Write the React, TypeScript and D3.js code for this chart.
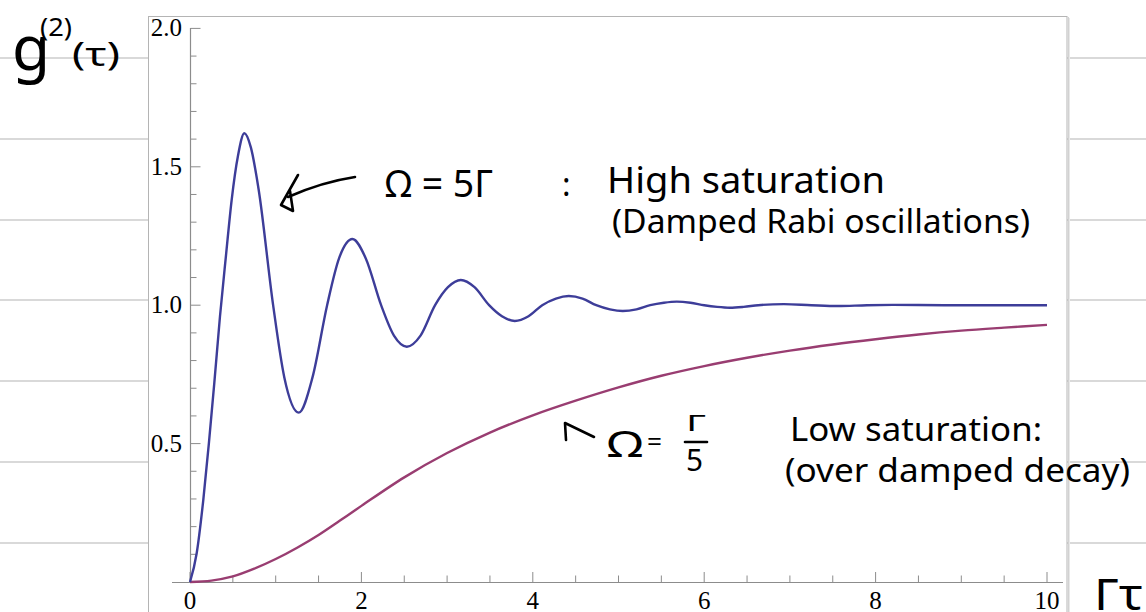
import React from "react";
import * as d3 from "d3";

// ---- data ----
const blueTau = [0, 0.078, 0.155, 0.22, 0.284, 0.35, 0.42, 0.486, 0.56, 0.634, 0.71, 0.8, 0.97, 1.1, 1.27, 1.43, 1.6, 1.74, 1.895, 2.05, 2.23, 2.38, 2.53, 2.69, 2.86, 3.01, 3.16, 3.32, 3.49, 3.64, 3.79, 3.95, 4.11, 4.27, 4.42, 4.58, 4.74, 4.9, 5.05, 5.21, 5.37, 5.53, 5.68, 5.84, 6.0, 6.15, 6.3, 6.46, 6.63, 6.93, 7.25, 7.56, 7.9, 8.2, 8.8, 9.4, 10];
const blueG = [0, 0.104, 0.296, 0.5, 0.72, 0.96, 1.18, 1.38, 1.54, 1.621, 1.57, 1.42, 1.0, 0.74, 0.612, 0.74, 1.0, 1.17, 1.239, 1.17, 1.0, 0.89, 0.85, 0.89, 1.0, 1.065, 1.091, 1.065, 1.0, 0.96, 0.943, 0.96, 1.0, 1.024, 1.033, 1.024, 1.0, 0.985, 0.979, 0.985, 1.0, 1.009, 1.013, 1.009, 1.0, 0.994, 0.991, 0.994, 1.0, 1.004, 1.0, 0.997, 1.0, 1.001, 1.0, 1.0, 1.0];
const redTau = [0, 0.25, 0.5, 0.75, 1.0, 1.25, 1.5, 1.75, 2.0, 2.5, 3.0, 3.5, 4.0, 4.5, 5.0, 5.5, 6.0, 6.5, 7.0, 7.5, 8.0, 8.5, 9.0, 9.5, 10];
const redG = [0, 0.005, 0.02, 0.048, 0.083, 0.124, 0.17, 0.222, 0.275, 0.378, 0.466, 0.54, 0.602, 0.655, 0.703, 0.745, 0.78, 0.81, 0.836, 0.858, 0.877, 0.894, 0.908, 0.919, 0.929];
const xTickLabels = ["0", "2", "4", "6", "8", "10"];
const yTickLabels = ["0.5", "1.0", "1.5", "2.0"];
const paperLinesLeft = [58, 139, 220, 300, 381, 462, 543];
const paperLinesRight = [58, 139, 220, 300, 381, 462, 543];

const BLUE = "#3d3d99";
const RED = "#993d71";
const AXIS = "#8c8c8c";
const HAND = "'Noto Sans', 'DejaVu Sans', sans-serif";
const SERIF = "'Liberation Serif', 'Times New Roman', serif";

export default function App() {
  const x = d3.scaleLinear().domain([0, 10]).range([190, 1047]);
  const y = d3.scaleLinear().domain([0, 2]).range([582, 28.4]);
  const blueLine = d3
    .line<[number, number]>()
    .x((d) => x(d[0]))
    .y((d) => y(d[1]))
    .curve(d3.curveMonotoneX);
  const redLine = d3
    .line<[number, number]>()
    .x((d) => x(d[0]))
    .y((d) => y(d[1]))
    .curve(d3.curveCatmullRom.alpha(0.5));
  const blue = blueLine(blueTau.map((t, i) => [t, blueG[i]] as [number, number])) || "";
  const red = redLine(redTau.map((t, i) => [t, redG[i]] as [number, number])) || "";

  const xMinor = d3.range(0, 10.001, 0.5);
  const yMinor = d3.range(0.1, 2.001, 0.1);

  return (
    <svg
      width={1146}
      height={612}
      style={{ position: "absolute", left: 0, top: 0, background: "#fff" }}
    >
      {/* lined paper */}
      {paperLinesLeft.map((py) => (
        <line key={"l" + py} x1={0} x2={149} y1={py} y2={py} stroke="#d9d9d9" strokeWidth={2} />
      ))}
      {paperLinesRight.map((py) => (
        <line key={"r" + py} x1={1067} x2={1146} y1={py} y2={py} stroke="#d9d9d9" strokeWidth={2} />
      ))}
      {/* plot frame */}
      <rect x={148.5} y={16.5} width={918.5} height={600} fill="#fff" stroke="#b4b4b4" strokeWidth={1} />
      <line x1={1068.5} x2={1068.5} y1={17} y2={612} stroke="#d2d2d2" strokeWidth={1} />
      <line x1={1069.5} x2={1069.5} y1={18} y2={612} stroke="#e8e8e8" strokeWidth={1} />

      {/* axes */}
      <line x1={172} x2={1063} y1={582.5} y2={582.5} stroke={AXIS} strokeWidth={1.2} />
      <line x1={190.5} x2={190.5} y1={28} y2={582.5} stroke={AXIS} strokeWidth={1.2} />
      {xMinor.map((t) => {
        const major = Math.abs(t % 2) < 1e-6;
        return (
          <line key={"xt" + t} x1={x(t)} x2={x(t)} y1={582} y2={major ? 572 : 575.5} stroke={AXIS} strokeWidth={1} />
        );
      })}
      {yMinor.map((v) => {
        const major = Math.abs((v * 10) % 5) < 1e-6;
        return (
          <line key={"yt" + v.toFixed(1)} x1={190.5} x2={major ? 200.5 : 196.5} y1={y(v)} y2={y(v)} stroke={AXIS} strokeWidth={1} />
        );
      })}
      {xTickLabels.map((s) => (
        <text key={"xl" + s} x={x(+s)} y={609} textAnchor="middle" fontFamily={SERIF} fontSize={25} fill="#000">
          {s}
        </text>
      ))}
      {yTickLabels.map((s) => (
        <text key={"yl" + s} x={182} y={y(+s) + 8} textAnchor="end" fontFamily={SERIF} fontSize={25} fill="#000">
          {s}
        </text>
      ))}

      {/* curves */}
      <path d={red} fill="none" stroke={RED} strokeWidth={2.4} />
      <path d={blue} fill="none" stroke={BLUE} strokeWidth={2.4} />

      {/* handwritten annotations */}
      <g fill="#000" fontFamily={HAND}>
        <text x={12} y={70} fontSize={62}>g</text>
        <text x={40} y={36} fontSize={26} textLength={32} lengthAdjust="spacingAndGlyphs">(2)</text>
        <text x={72} y={66} fontSize={32} textLength={48} lengthAdjust="spacingAndGlyphs">(τ)</text>

        <text x={385} y={197} fontSize={38} textLength={108} lengthAdjust="spacingAndGlyphs">Ω = 5Γ</text>
        <text x={562} y={196} fontSize={32}>:</text>
        <text x={607} y={193} fontSize={36} textLength={278} lengthAdjust="spacingAndGlyphs">High saturation</text>
        <text x={612} y={233} fontSize={33} textLength={418} lengthAdjust="spacingAndGlyphs">(Damped Rabi oscillations)</text>

        <text x={607} y={457} fontSize={36} textLength={36} lengthAdjust="spacingAndGlyphs">Ω</text>
        <text x={647} y={451} fontSize={26} textLength={15} lengthAdjust="spacingAndGlyphs">=</text>
        <text x={686} y={431} fontSize={22} textLength={20} lengthAdjust="spacingAndGlyphs">Γ</text>
        <text x={686} y={471} fontSize={30} textLength={17} lengthAdjust="spacingAndGlyphs">5</text>

        <text x={790} y={441} fontSize={33} textLength={252} lengthAdjust="spacingAndGlyphs">Low saturation:</text>
        <text x={785} y={482} fontSize={33} textLength={345} lengthAdjust="spacingAndGlyphs">(over damped decay)</text>

        <text x={1094} y={610} fontSize={44} textLength={49} lengthAdjust="spacingAndGlyphs">Γτ</text>
      </g>
      <g fill="none" stroke="#000" strokeWidth={2.6} strokeLinecap="round" strokeLinejoin="round">
        <path d="M355,177 Q322,182 288,197" />
        <path d="M298,175 L281,205 L293,211 L290,191" />
        <path d="M594,437 L565,423 L566,440" />
        <path d="M685,442 L707,442" />
      </g>
    </svg>
  );
}
